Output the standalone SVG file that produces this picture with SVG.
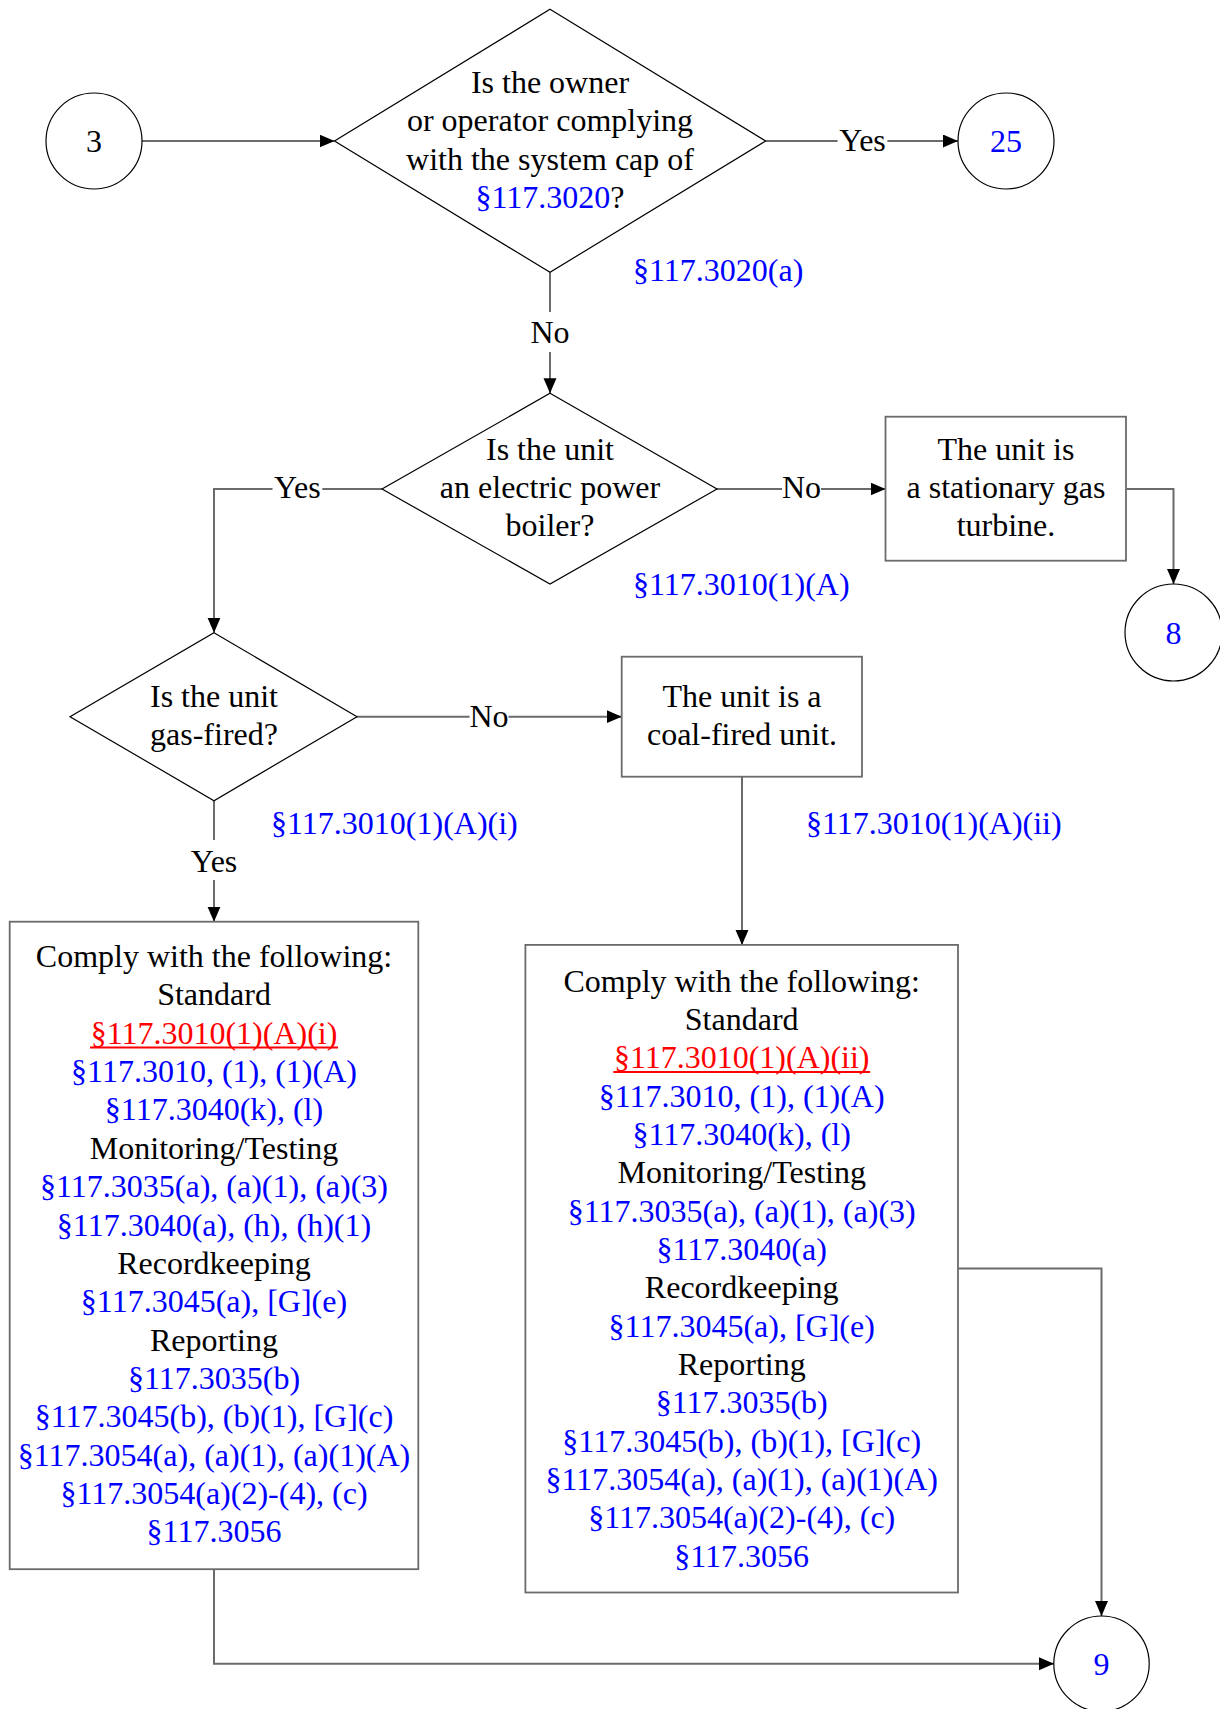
<svg xmlns="http://www.w3.org/2000/svg" width="1220" height="1709" viewBox="0 0 1220 1709">
<style>
text{font-family:"Liberation Serif","Times New Roman",serif;font-size:32px;text-anchor:middle;fill:#000}
.b{fill:#0000FF}
.r{fill:#FF0000}
.ul{stroke:#FF0000;stroke-width:1.8}
.s{text-anchor:start}
.shape{fill:#fff;stroke:#000;stroke-width:1.2}
.box{fill:#fff;stroke:#6b6b6b;stroke-width:1.8}
.c{fill:none;stroke:#6b6b6b;stroke-width:2}
.a{marker-end:url(#arr)}
</style>
<defs>
<marker id="arr" markerUnits="userSpaceOnUse" markerWidth="16" markerHeight="14" refX="15" refY="6.5" orient="auto">
<path d="M0,0 L15,6.5 L0,13 z" fill="#000"/>
</marker>
</defs>
<rect width="1220" height="1709" fill="#fff"/>

<g id="connectors">
<line class="c a" x1="142" y1="141" x2="334.5" y2="141"/>
<line class="c" x1="765.6" y1="141" x2="837.6" y2="141"/>
<line class="c a" x1="887.4" y1="141" x2="958" y2="141"/>
<text x="862.5" y="151">Yes</text>
<line class="c" x1="550" y1="272.3" x2="550" y2="312"/>
<line class="c a" x1="550" y1="352" x2="550" y2="393.3"/>
<text x="550" y="343">No</text>
<line class="c" x1="717" y1="489" x2="782" y2="489"/>
<line class="c a" x1="821" y1="489" x2="885.5" y2="489"/>
<text x="801.5" y="498">No</text>
<polyline class="c" points="382,489 322.3,489"/>
<polyline class="c a" points="272.5,489 214,489 214,632.7"/>
<text x="297.4" y="498">Yes</text>
<polyline class="c a" points="1126,489 1173.5,489 1173.5,584"/>
<line class="c" x1="357" y1="716.7" x2="469.5" y2="716.7"/>
<line class="c a" x1="508.5" y1="716.7" x2="621.7" y2="716.7"/>
<text x="489" y="727">No</text>
<line class="c" x1="214" y1="800.7" x2="214" y2="840"/>
<line class="c a" x1="214" y1="880" x2="214" y2="921.7"/>
<text x="214" y="872">Yes</text>
<line class="c a" x1="742" y1="776.7" x2="742" y2="944.9"/>
<polyline class="c a" points="958,1268.4 1101.5,1268.4 1101.5,1616"/>
<polyline class="c a" points="214,1569.2 214,1663.7 1054,1663.7"/>
</g>

<g id="ref-labels">
<text class="b s" x="633" y="281">§117.3020(a)</text>
<text class="b s" x="633" y="595">§117.3010(1)(A)</text>
<text class="b s" x="271" y="834">§117.3010(1)(A)(i)</text>
<text class="b s" x="806" y="834">§117.3010(1)(A)(ii)</text>
</g>

<g id="n3">
<circle class="shape" cx="94" cy="141" r="48"/>
<text x="94" y="152">3</text>
</g>

<g id="d1">
<polygon class="shape" points="550,9.3 765.6,141 550,272.3 334.5,141"/>
<text x="550" y="92.5">Is the owner</text>
<text x="550" y="131">or operator complying</text>
<text x="550" y="169.5">with the system cap of</text>
<text x="550" y="208"><tspan class="b">§117.3020</tspan>?</text>
</g>

<g id="n25">
<circle class="shape" cx="1006" cy="141" r="48"/>
<text class="b" x="1006" y="152">25</text>
</g>

<g id="d2">
<polygon class="shape" points="550,393.3 717,489 550,584 382,489"/>
<text x="550" y="460">Is the unit</text>
<text x="550" y="498">an electric power</text>
<text x="550" y="536">boiler?</text>
</g>

<g id="gasturbine">
<rect class="box" x="885.5" y="416.7" width="240.5" height="144"/>
<text x="1006" y="460">The unit is</text>
<text x="1006" y="498">a stationary gas</text>
<text x="1006" y="536">turbine.</text>
</g>

<g id="n8">
<circle class="shape" cx="1173.5" cy="632.5" r="48.5"/>
<text class="b" x="1173.5" y="643.5">8</text>
</g>

<g id="d3">
<polygon class="shape" points="214,632.7 357,716.7 214,800.7 70,716.7"/>
<text x="214" y="706.7">Is the unit</text>
<text x="214" y="745">gas-fired?</text>
</g>

<g id="coal">
<rect class="box" x="621.7" y="656.7" width="240.3" height="120"/>
<text x="742" y="706.7">The unit is a</text>
<text x="742" y="745">coal-fired unit.</text>
</g>

<g id="box1">
<rect class="box" x="9.7" y="921.7" width="408.6" height="647.5"/>
<text x="214" y="967">Comply with the following:</text>
<text x="214" y="1005.4">Standard</text>
<text class="r" x="214" y="1043.7">§117.3010(1)(A)(i)</text>
<line class="ul" x1="90" y1="1047.5" x2="338" y2="1047.5"/>
<text class="b" x="214" y="1082">§117.3010, (1), (1)(A)</text>
<text class="b" x="214" y="1120.4">§117.3040(k), (l)</text>
<text x="214" y="1158.8">Monitoring/Testing</text>
<text class="b" x="214" y="1197.1">§117.3035(a), (a)(1), (a)(3)</text>
<text class="b" x="214" y="1235.5">§117.3040(a), (h), (h)(1)</text>
<text x="214" y="1273.8">Recordkeeping</text>
<text class="b" x="214" y="1312.2">§117.3045(a), [G](e)</text>
<text x="214" y="1350.5">Reporting</text>
<text class="b" x="214" y="1388.9">§117.3035(b)</text>
<text class="b" x="214" y="1427.2">§117.3045(b), (b)(1), [G](c)</text>
<text class="b" x="214" y="1465.6">§117.3054(a), (a)(1), (a)(1)(A)</text>
<text class="b" x="214" y="1503.9">§117.3054(a)(2)-(4), (c)</text>
<text class="b" x="214" y="1542.3">§117.3056</text>
</g>

<g id="box2">
<rect class="box" x="525.4" y="944.9" width="432.6" height="647.6"/>
<text x="741.7" y="991.5">Comply with the following:</text>
<text x="741.7" y="1029.9">Standard</text>
<text class="r" x="741.7" y="1068.2">§117.3010(1)(A)(ii)</text>
<line class="ul" x1="613.3" y1="1072" x2="870.1" y2="1072"/>
<text class="b" x="741.7" y="1106.6">§117.3010, (1), (1)(A)</text>
<text class="b" x="741.7" y="1144.9">§117.3040(k), (l)</text>
<text x="741.7" y="1183.3">Monitoring/Testing</text>
<text class="b" x="741.7" y="1221.6">§117.3035(a), (a)(1), (a)(3)</text>
<text class="b" x="741.7" y="1260">§117.3040(a)</text>
<text x="741.7" y="1298.3">Recordkeeping</text>
<text class="b" x="741.7" y="1336.7">§117.3045(a), [G](e)</text>
<text x="741.7" y="1375">Reporting</text>
<text class="b" x="741.7" y="1413.4">§117.3035(b)</text>
<text class="b" x="741.7" y="1451.7">§117.3045(b), (b)(1), [G](c)</text>
<text class="b" x="741.7" y="1490.1">§117.3054(a), (a)(1), (a)(1)(A)</text>
<text class="b" x="741.7" y="1528.4">§117.3054(a)(2)-(4), (c)</text>
<text class="b" x="741.7" y="1566.8">§117.3056</text>
</g>

<g id="n9">
<circle class="shape" cx="1101.5" cy="1663.7" r="47.7"/>
<text class="b" x="1101.5" y="1674.7">9</text>
</g>
</svg>
